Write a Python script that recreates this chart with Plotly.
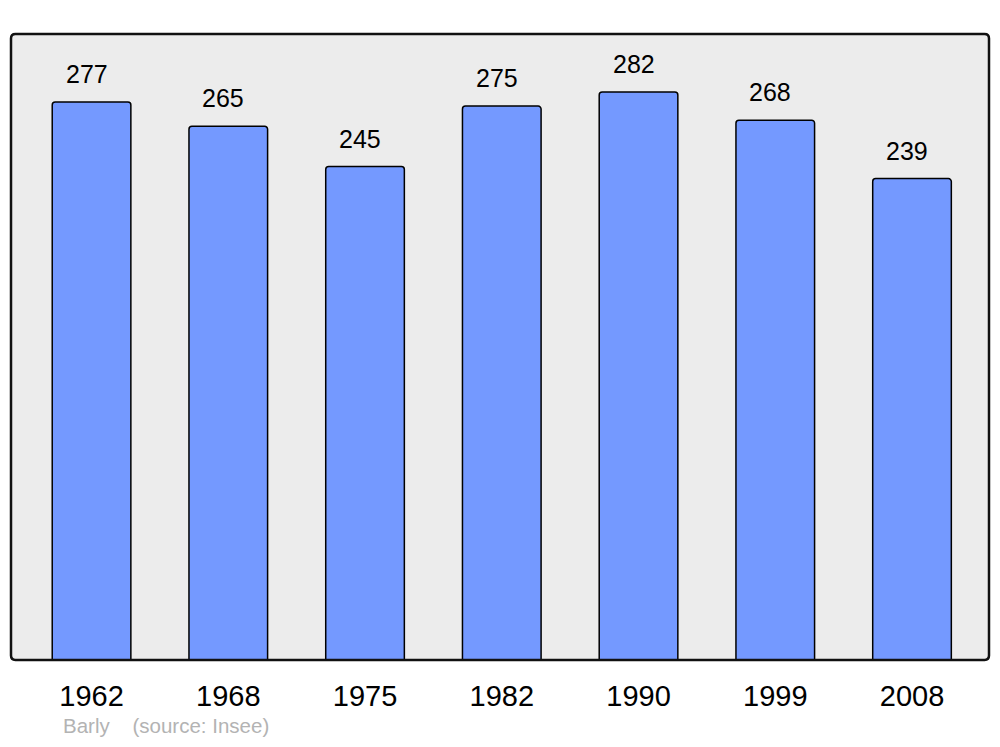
import plotly.graph_objects as go

years = ["1962", "1968", "1975", "1982", "1990", "1999", "2008"]
population = [277, 265, 245, 275, 282, 268, 239]
positions = [0, 1, 2, 3, 4, 5, 6]

fig = go.Figure(
    go.Bar(
        x=positions,
        y=population,
        width=0.575,
        marker=dict(color="#7499ff", line=dict(color="#000000", width=1.5), cornerradius=3),
        hoverinfo="skip",
    )
)

# value labels above each bar, nudged slightly left like the original
for pos, val in zip(positions, population):
    fig.add_annotation(
        x=pos, y=val, text=str(val), showarrow=False,
        xanchor="center", yanchor="bottom", xshift=-5, yshift=12,
        font=dict(family="Liberation Sans, Arial", size=25, color="#000000"),
    )

fig.add_annotation(
    x=0.052, y=-0.105, xref="paper", yref="paper",
    text="Barly&nbsp;&nbsp;&nbsp;&nbsp;(source: Insee)", showarrow=False,
    xanchor="left", yanchor="middle", borderpad=0,
    font=dict(family="Liberation Sans, Arial", size=20.5, color="#b3b3b3"),
)

# frame around the plot area with slightly rounded corners
rx, ry = 0.0045, 0.007
frame = (
    f"M {rx},0 L {1 - rx},0 Q 1,0 1,{ry} L 1,{1 - ry} Q 1,1 {1 - rx},1 "
    f"L {rx},1 Q 0,1 0,{1 - ry} L 0,{ry} Q 0,0 {rx},0 Z"
)
fig.add_shape(
    type="path", xref="paper", yref="paper", path=frame,
    line=dict(color="#111111", width=2.5), layer="above",
)

# page body has an 8px margin, so the figure is sized to fit inside it
fig.update_layout(
    width=984, height=731,
    margin=dict(l=3, r=3, t=26, b=79),
    paper_bgcolor="#ffffff",
    plot_bgcolor="#ececec",
    showlegend=False,
    font=dict(family="Liberation Sans, Arial", color="#000000"),
)
fig.update_xaxes(
    range=[-0.589, 6.563], tickvals=positions, ticktext=years,
    tickfont=dict(size=29), showgrid=False, zeroline=False,
    ticks="outside", ticklen=10, tickcolor="rgba(0,0,0,0)",
)
fig.update_yaxes(range=[0, 310.8], visible=False, showgrid=False, zeroline=False)

fig.write_html("out.html")
